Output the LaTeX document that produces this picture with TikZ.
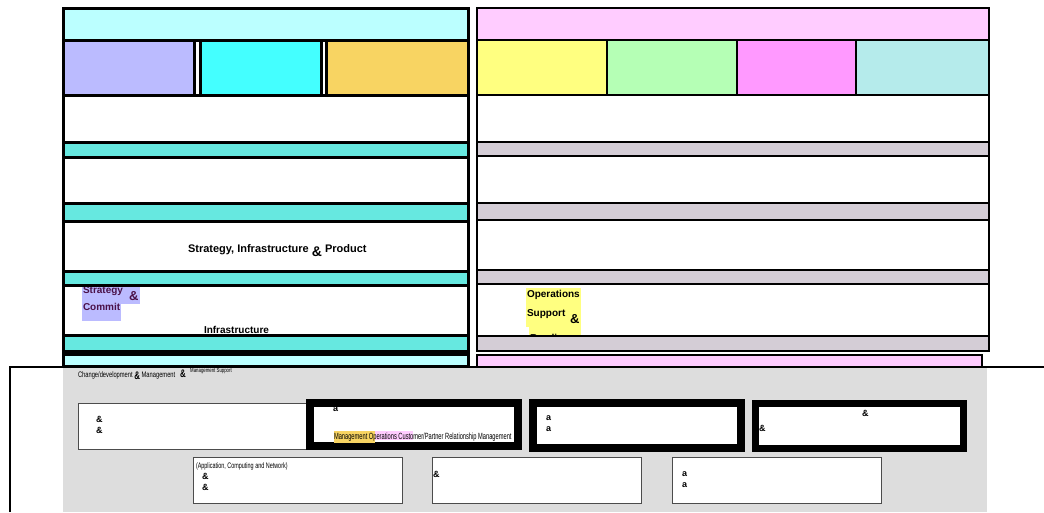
\documentclass[tikz,border=0pt]{standalone}
\usepackage{fontspec}
\setmainfont{Liberation Sans}
\definecolor{topcyan}{HTML}{BBFFFF}
\definecolor{lavender}{HTML}{BBBBFF}
\definecolor{brightcyan}{HTML}{44FFFF}
\definecolor{gold}{HTML}{F8D462}
\definecolor{tealband}{HTML}{66E8E0}
\definecolor{toppink}{HTML}{FFCCFF}
\definecolor{lemon}{HTML}{FFFF80}
\definecolor{mint}{HTML}{B5FFB5}
\definecolor{orchid}{HTML}{FF99FF}
\definecolor{paleteal}{HTML}{B5EBEB}
\definecolor{mauvegray}{HTML}{D4CDD6}
\definecolor{panelgray}{HTML}{DDDDDD}
\definecolor{plum}{HTML}{4A1048}
\begin{document}
\begin{tikzpicture}[x=1pt,y=-1pt,
  every node/.style={inner sep=0pt, outer sep=0pt, anchor=north west},
  lbox/.style={draw, line width=3pt},
  rbox/.style={draw, line width=2pt},
  thinbox/.style={draw=black!70, line width=1pt, fill=white},
  heavybox/.style={draw, line width=8pt, fill=white},
  boldtext/.style={font=\fontsize{10}{12}\selectfont\bfseries, anchor=base west},
  tinytext/.style={font=\fontsize{8}{8}\selectfont, anchor=base west},
  blob/.style={font=\fontsize{9}{11}\selectfont\bfseries, align=left}]
\useasboundingbox (0,0) rectangle (1044,512);
% left panel
\node[lbox, fill=topcyan, minimum width=405, minimum height=32] (lhead) at (63,8) {};
\node[lbox, fill=lavender, minimum width=131, minimum height=55] (lcellA) at (63,40) {};
\node[lbox, fill=brightcyan, minimum width=121, minimum height=55] (lcellB) at (200,40) {};
\node[lbox, fill=gold, minimum width=142, minimum height=55] (lcellC) at (326,40) {};
\node[lbox, fill=white, minimum width=405, minimum height=47] (lrowA) at (63,95) {};
\node[lbox, fill=white, minimum width=405, minimum height=46] (lrowB) at (63,157) {};
\node[lbox, fill=white, minimum width=405, minimum height=50] (lrowC) at (63,221) {};
\node[lbox, fill=white, minimum width=405, minimum height=50] (lrowD) at (63,285) {};
\node[boldtext, font=\fontsize{11}{12}\selectfont\bfseries] (sipText) at (188,252.5) {Strategy, Infrastructure \raisebox{-0.7ex}{\fontsize{14}{14}\selectfont\&} Product};
\fill[lavender] (82,285) rectangle (140,304);
\fill[lavender] (82,304) rectangle (121,321);
\node[boldtext, text=plum] (stratText) at (83,293) {Strategy};
\node[boldtext, text=plum, font=\fontsize{13}{13}\selectfont\bfseries] (stratAmp) at (129,300) {\&};
\node[boldtext, text=plum] (commitText) at (83,310) {Commit};
\node[boldtext] (infraText) at (204,333) {Infrastructure};
\node[lbox, fill=tealband, minimum width=405, minimum height=15] (lbandA) at (63,142) {};
\node[lbox, fill=tealband, minimum width=405, minimum height=18] (lbandB) at (63,203) {};
\node[lbox, fill=tealband, minimum width=405, minimum height=14] (lbandC) at (63,271) {};
\node[lbox, fill=tealband, minimum width=405, minimum height=16] (lbandD) at (63,335) {};
\node[lbox, fill=topcyan, minimum width=405, minimum height=12] (lfoot) at (63,354) {};
% right panel
\node[rbox, fill=toppink, minimum width=512, minimum height=32] (rhead) at (477,8) {};
\node[rbox, fill=lemon, minimum width=130, minimum height=55] (rcellA) at (477,40) {};
\node[rbox, fill=mint, minimum width=130, minimum height=55] (rcellB) at (607,40) {};
\node[rbox, fill=orchid, minimum width=119, minimum height=55] (rcellC) at (737,40) {};
\node[rbox, fill=paleteal, minimum width=133, minimum height=55] (rcellD) at (856,40) {};
\node[rbox, fill=white, minimum width=512, minimum height=47] (rrowA) at (477,95) {};
\node[rbox, fill=white, minimum width=512, minimum height=47] (rrowB) at (477,156) {};
\node[rbox, fill=white, minimum width=512, minimum height=50] (rrowC) at (477,220) {};
\node[rbox, fill=white, minimum width=512, minimum height=52] (rrowD) at (477,284) {};
\fill[lemon] (526,288) rectangle (581,327);
\fill[lemon] (529,327) rectangle (581,340);
\node[boldtext] (opsText) at (527,297) {Operations};
\node[boldtext] (supportText) at (527,316) {Support};
\node[boldtext, font=\fontsize{13}{13}\selectfont\bfseries] (opsAmp) at (570,323) {\&};
\node[boldtext] (readyText) at (530,341) {Readiness};
\node[rbox, fill=mauvegray, minimum width=512, minimum height=14] (rbandA) at (477,142) {};
\node[rbox, fill=mauvegray, minimum width=512, minimum height=17] (rbandB) at (477,203) {};
\node[rbox, fill=mauvegray, minimum width=512, minimum height=14] (rbandC) at (477,270) {};
\node[rbox, fill=mauvegray, minimum width=512, minimum height=15] (rbandD) at (477,336) {};
\node[rbox, fill=toppink, minimum width=505, minimum height=12] (rfoot) at (477,354.5) {};
% lower area
\fill[panelgray] (63,368) rectangle (987,512);
\draw[line width=2pt] (10,512) -- (10,367) -- (1044,367);
\node[tinytext] (mgmtText) at (78,377) {\scalebox{0.72}[1]{Change/development \raisebox{-0.6ex}{\fontsize{11}{11}\selectfont\bfseries\&} Management \ \ \fontsize{11}{11}\selectfont\bfseries\&\ \ \raisebox{0.8ex}{\fontsize{6}{6}\selectfont\mdseries Management Support}}};
\node[thinbox, minimum width=242, minimum height=46] (boxA) at (78,403) {};
\node[heavybox, minimum width=208, minimum height=43] (boxB) at (310,403) {};
\node[heavybox, minimum width=208.5, minimum height=45] (boxC) at (532.5,403) {};
\node[heavybox, line width=7pt, minimum width=208, minimum height=45] (boxD) at (755.5,403) {};
\node[thinbox, minimum width=209, minimum height=46] (boxE) at (193,457) {};
\node[thinbox, minimum width=209, minimum height=46] (boxF) at (432,457) {};
\node[thinbox, minimum width=209, minimum height=46] (boxG) at (672,457) {};
\node[blob] (blobA) at (96,416) {\&\\\&};
\node[blob] (blobB) at (333,407) {a};
\fill[gold] (334,431) rectangle (375,443);
\fill[toppink] (375,431) rectangle (413,440);
\node[tinytext, font=\fontsize{9}{9}\selectfont] (opsMgmtText) at (334,439) {\scalebox{0.635}[1]{Management Operations Customer/Partner Relationship Management}};
\node[blob] (blobC) at (546,416) {a\\a};
\node[blob] (blobD) at (862,410) {\&};
\node[blob] (blobDb) at (759,425) {\&};
\node[tinytext] (netText) at (196,468) {\scalebox{0.68}[1]{(Application, Computing and Network)}};
\node[blob] (blobE) at (202,473) {\&\\\&};
\node[blob] (blobF) at (433,471) {\&};
\node[blob] (blobG) at (682,472) {a\\a};
\end{tikzpicture}
\end{document}
